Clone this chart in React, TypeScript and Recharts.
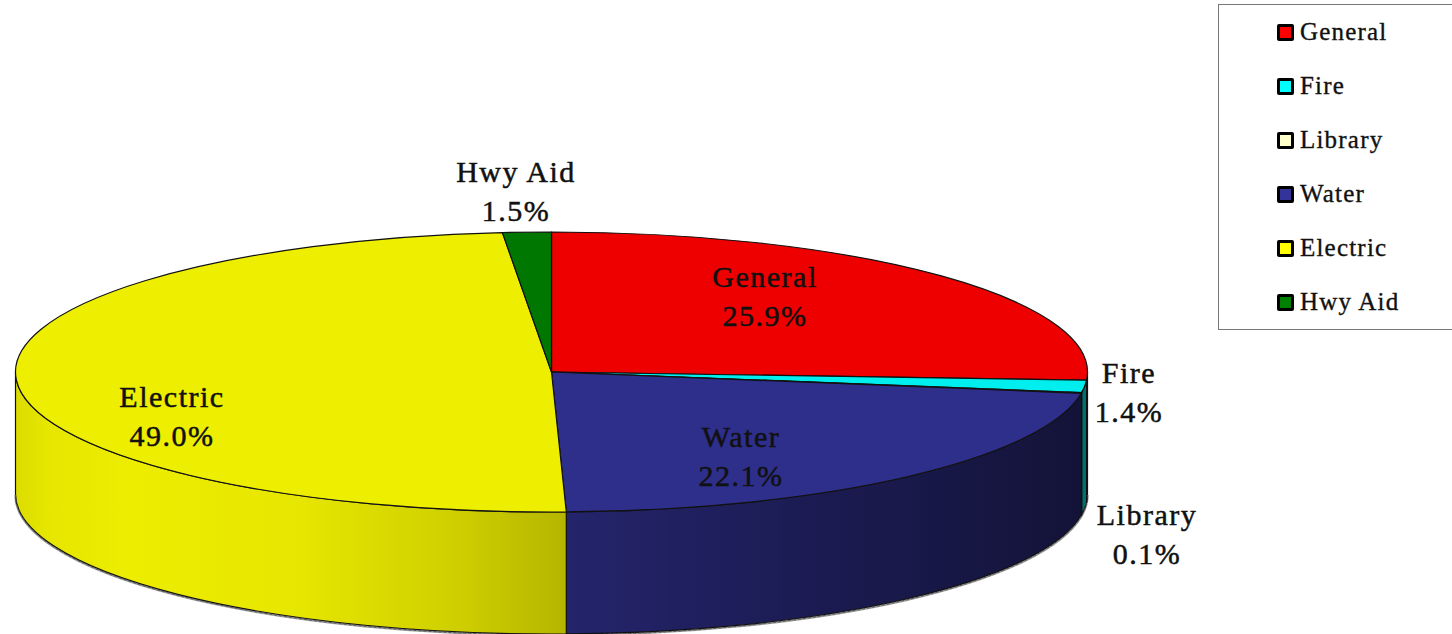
import { PieChart, Pie, Legend } from "recharts";

const categories = ["General", "Fire", "Library", "Water", "Electric", "Hwy Aid"];
// estimated to two places from the slice edges, they round to the printed labels
const shares = [25.93, 1.42, 0.08, 22.13, 48.98, 1.46];

const TOP_COLORS = ["#ee0000", "#00eeee", "#eeeebb", "#2e2e8b", "#eeee00", "#007700"];
const LEGEND_COLORS = ["#ff0000", "#00ffff", "#ffffcc", "#333399", "#ffff00", "#008000"];

// side wall shading, offset runs left to right across the whole pie
const WALL_STOPS: [number, string][][] = [
  [[0, "#770000"], [1, "#770000"]],
  [[0, "#007070"], [1, "#007070"]],
  [[0, "#777760"], [1, "#777760"]],
  [[0.515, "#24246c"], [0.75, "#1b1b52"], [1, "#131338"]],
  [[0, "#dcdc00"], [0.03, "#e6e600"], [0.107, "#eded00"], [0.266, "#e6e600"], [0.406, "#d0d000"], [0.515, "#b5b500"]],
  [[0, "#004000"], [1, "#004000"]],
];

// label anchor x, first baseline y
const LABEL_POS = [
  [765, 287],
  [1129, 383],
  [1147, 525],
  [741, 447],
  [172, 407],
  [516, 182],
];

const CX = 551.5;
const CY = 372;
const RX = 536;
const RY = 140;
const DEPTH = 122;
const FONT = "'Liberation Serif', serif";

const data = categories.map((name, i) => ({ name, value: shares[i], fill: TOP_COLORS[i] }));

const rim = (theta: number, drop = 0) => {
  const r = (theta * Math.PI) / 180;
  return `${CX + RX * Math.sin(r)} ${CY - RY * Math.cos(r) + drop}`;
};

function Slice3D(props: any) {
  const { startAngle, endAngle, fill, index } = props;
  const from = 90 - startAngle;
  const to = 90 - endAngle;
  const large = to - from > 180 ? 1 : 0;
  const top = `M ${CX} ${CY} L ${rim(from)} A ${RX} ${RY} 0 ${large} 1 ${rim(to)} Z`;

  // the wall is only visible on the front half
  const wallFrom = Math.max(from, 90);
  const wallTo = Math.min(to, 270);
  const hasWall = wallTo > wallFrom;
  const wallLarge = wallTo - wallFrom > 180 ? 1 : 0;
  const wall = `M ${rim(wallFrom)} A ${RX} ${RY} 0 ${wallLarge} 1 ${rim(wallTo)} L ${rim(wallTo, DEPTH)} A ${RX} ${RY} 0 ${wallLarge} 0 ${rim(wallFrom, DEPTH)} Z`;
  const bottom = `M ${rim(wallFrom, DEPTH)} A ${RX} ${RY} 0 ${wallLarge} 1 ${rim(wallTo, DEPTH)}`;
  const gradId = `wall-${index}`;

  return (
    <g>
      {hasWall && (
        <>
          <defs>
            <linearGradient id={gradId} gradientUnits="userSpaceOnUse" x1={CX - RX} x2={CX + RX} y1={0} y2={0}>
              {WALL_STOPS[index].map(([o, c]) => (
                <stop key={o} offset={o} stopColor={c} />
              ))}
            </linearGradient>
          </defs>
          <path d={bottom} fill="none" stroke="#999" strokeWidth={2.5} transform="translate(0 1)" />
          <path d={wall} fill={`url(#${gradId})`} stroke="#111" strokeWidth={1.2} />
          <path d={bottom} fill="none" stroke="#555" strokeWidth={1} strokeDasharray="3 2" transform="translate(0 1)" />
        </>
      )}
      <path d={top} fill={fill} stroke="#111" strokeWidth={1.2} strokeLinejoin="round" />
    </g>
  );
}

function SliceLabel(props: any) {
  const { index, name, value } = props;
  const [x, y] = LABEL_POS[index];
  return (
    <text
      x={x}
      y={y}
      textAnchor="middle"
      fontFamily={FONT}
      fontSize={30}
      letterSpacing={1.5}
      fill="#111"
      stroke="#111"
      strokeWidth={0.5}
    >
      <tspan x={x} y={y}>{name}</tspan>
      <tspan x={x} y={y + 39}>{value.toFixed(1)}%</tspan>
    </text>
  );
}

function LegendBox() {
  return (
    <div
      style={{
        boxSizing: "border-box",
        width: 235,
        height: 326,
        border: "1px solid #777",
        background: "#fff",
        paddingTop: 0,
      }}
    >
      {categories.map((name, i) => (
        <div key={name} style={{ display: "flex", alignItems: "center", height: 54, paddingLeft: 58 }}>
          <span
            style={{
              boxSizing: "border-box",
              width: 17,
              height: 17,
              border: "3px solid #000",
              borderRadius: 2,
              background: LEGEND_COLORS[i],
              marginRight: 6,
            }}
          />
          <span
            style={{
              fontFamily: FONT,
              fontSize: 25,
              letterSpacing: 1.2,
              color: "#111",
              WebkitTextStroke: "0.35px #111",
            }}
          >
            {name}
          </span>
        </div>
      ))}
    </div>
  );
}

export default function App() {
  return (
    <div style={{ position: "fixed", left: 0, top: 0, width: 1452, height: 634, background: "#fff", overflow: "hidden" }}>
      <PieChart width={1452} height={634} margin={{ top: 0, right: 0, bottom: 0, left: 0 }}>
        <Pie
          data={data}
          dataKey="value"
          nameKey="name"
          cx={CX}
          cy={CY}
          innerRadius={0}
          outerRadius={RX}
          startAngle={90}
          endAngle={-270}
          shape={Slice3D}
          label={SliceLabel}
          labelLine={false}
          isAnimationActive={false}
        />
        <Legend
          content={<LegendBox />}
          layout="vertical"
          wrapperStyle={{ position: "absolute", left: 1218, top: 4, width: 235, height: 326 }}
        />
      </PieChart>
    </div>
  );
}
